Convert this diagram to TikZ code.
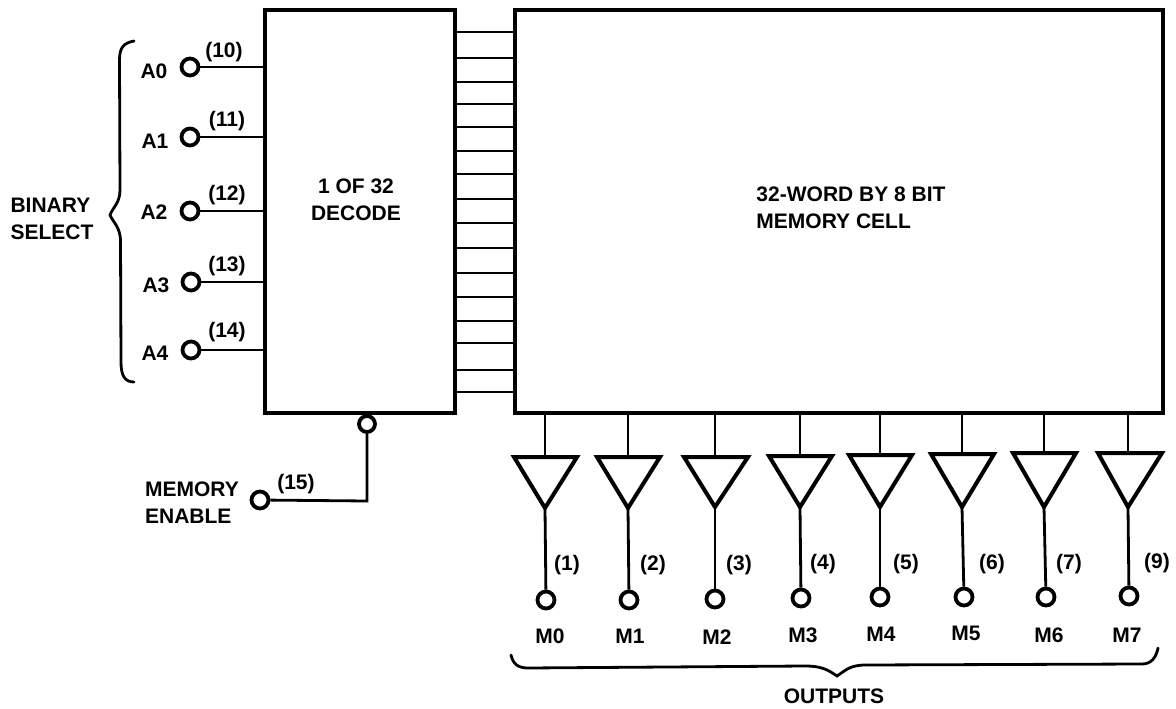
\documentclass[tikz,border=0pt]{standalone}
\usepackage{fontspec}
\setmainfont{Liberation Sans}
\tikzset{
  x=1pt,y=-1pt,
  lbl/.style={inner sep=0pt,font=\fontsize{21}{27}\selectfont\bfseries,text=black},
  block/.style={draw,line width=4pt,inner sep=0pt,anchor=north west},
  pin/.style={draw,circle,line width=3.8pt,minimum size=17pt,inner sep=0pt,fill=white},
  wire/.style={line width=2.8pt},
  rung/.style={line width=2.6pt},
  amp/.style={line width=4pt,line join=miter},
  curly/.style={line width=2.8pt,line cap=round}
}
\begin{document}
\begin{tikzpicture}
\useasboundingbox (0,0) rectangle (1176,709);
% blocks
\node[block,minimum width=190pt,minimum height=403pt] (dec) at (263,8) {};
\node[block,minimum width=648pt,minimum height=403pt] (mem) at (513,8) {};
\node[lbl,align=center] (dectxt) at (356,200) {1 OF 32\\DECODE};
\node[lbl,align=left] (memtxt) at (851,208) {32-WORD BY 8 BIT\\MEMORY CELL};
% word lines between decoder and memory
\foreach \y in {32,58,82,104,127,151,174,199,223,248,273,297,321,343,370,392}{
  \coordinate (w) at (0,\y);
  \draw[rung] (dec.east |- w) -- (mem.west |- w);
}
% address inputs
\foreach \n/\px/\py/\lx/\ly/\tx/\ty/\num in {
  0/190/67/154/71/224/52/10,
  1/190/137/155/141/227/121/11,
  2/190/211/154/212/227/195/12,
  3/191/282/156/285/227/266/13,
  4/191/350/155/353/227/332/14}{
  \node[pin] (A\n) at (\px,\py) {};
  \node[lbl] (Al\n) at (\lx,\ly) {A\n};
  \node[lbl] (An\n) at (\tx,\ty) {(\num)};
  \draw[wire] (A\n) -- (A\n -| dec.west);
}
\node[lbl,align=left] (bin) at (52,219) {BINARY\\SELECT};
\coordinate (bt) at (134,41);
\coordinate (bm) at (110,215);
\coordinate (bb) at (134,382);
\draw[curly] (bt) .. controls (124,43) and (119.5,47) .. (119.5,60) -- (120,190)
  .. controls (120,203) and (113,207) .. (bm)
  .. controls (113,222) and (120,227) .. (120.5,240) -- (121,362)
  .. controls (121,376) and (125,382) .. (bb);
% enable
\node[pin,minimum size=16pt] (en) at (367,424) {};
\node[pin] (me) at (260,500) {};
\node[lbl] (n15) at (296,484) {(15)};
\node[lbl,align=left] (metxt) at (192,503) {MEMORY\\ENABLE};
\draw[wire] (me) -- (367,501) -- (en);
% output amplifiers
\foreach \n/\sx/\xl/\xr/\yt/\ya/\cx/\cy/\nx/\ny/\mx/\my/\num in {
  0/545/514/577/457/508/546/600/567/565/550/636/1,
  1/628/597/660/457/508/629/600/653/565/630/636/2,
  2/715/684/748/457/507/715/599/739/565/717/637/3,
  3/800/769/832/456/507/801/598/823/564/803/635/4,
  4/880/849/912/455/507/880/597/906/564/881/634/5,
  5/962/931/994/454/507/964/597/992/564/966/633/6,
  6/1044/1013/1076/453/507/1046/597/1069/564/1049/635/7,
  7/1128/1098/1162/453/507/1129/596/1157/563/1127/635/9}{
  \coordinate (tl\n) at (\xl,\yt);
  \coordinate (tr\n) at (\xr,\yt);
  \coordinate (ta\n) at (\sx,\ya);
  \coordinate (ti\n) at (\sx,\yt);
  \draw[amp] (tl\n) -- (tr\n) -- (ta\n) -- cycle;
  \draw[wire] (mem.south -| ti\n) -- (ti\n);
  \node[pin] (M\n) at (\cx,\cy) {};
  \draw[wire] (ta\n) -- (M\n);
  \node[lbl] (Mn\n) at (\nx,\ny) {(\num)};
  \node[lbl] (Ml\n) at (\mx,\my) {M\n};
}
\coordinate (ol) at (511,655);
\coordinate (om) at (837,676);
\coordinate (or) at (1158,648);
\draw[curly] (ol) .. controls (513,664) and (518,668) .. (528,668) -- (805,666)
  .. controls (822,666) and (828,670) .. (om)
  .. controls (846,670) and (850,665) .. (866,665) -- (1142,664)
  .. controls (1151,664) and (1156,658) .. (or);
\node[lbl] (outs) at (834,696) {OUTPUTS};
\end{tikzpicture}
\end{document}
